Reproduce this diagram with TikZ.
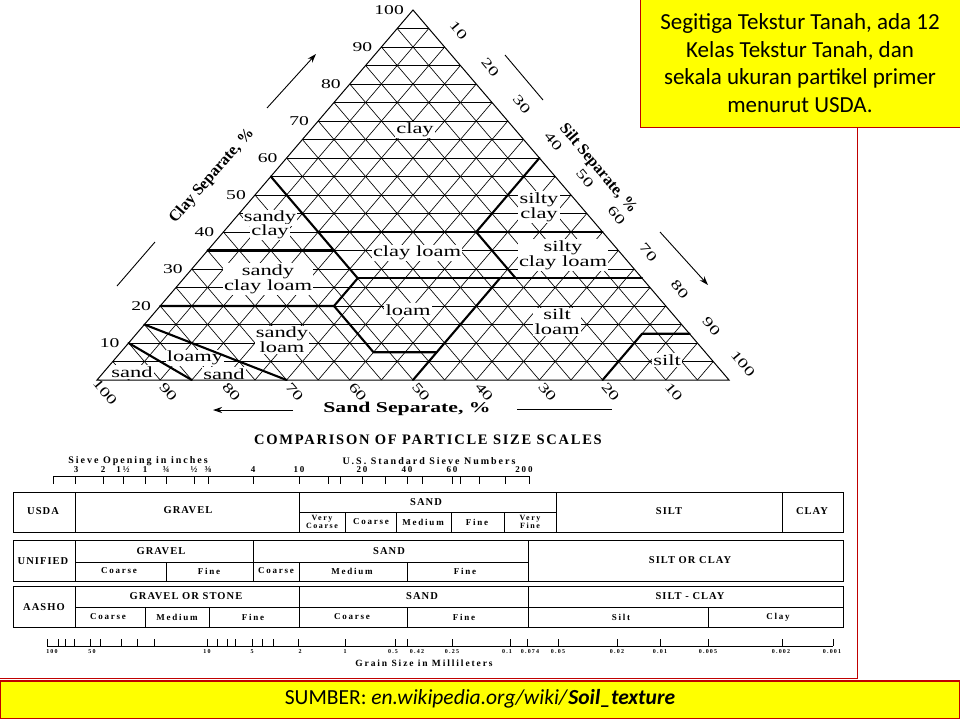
\documentclass[tikz,border=0pt]{standalone}
\usepackage{fontspec}
\setmainfont{Liberation Serif}
\newfontfamily\dgfont[FakeStretch=1.45]{Liberation Serif}
\newfontfamily\tbfont[LetterSpace=20]{Liberation Serif}
\newfontfamily\thfont[LetterSpace=10]{Liberation Serif}
\newfontfamily\ctfont[LetterSpace=12]{Liberation Serif}
\newfontfamily\slidefont{Carlito}
\usetikzlibrary{arrows.meta}
\definecolor{slidered}{RGB}{192,0,0}
\definecolor{slideyellow}{RGB}{255,255,0}
\tikzset{
  gridline/.style={line width=0.65pt},
  classline/.style={line width=2.1pt, line cap=round, line join=round},
  cls/.style={font={\dgfont\fontsize{15.5}{15}\selectfont}, fill=white, inner sep=1.2pt, align=center},
  lnum/.style={font={\dgfont\fontsize{13.5}{14}\selectfont}, anchor=east, inner sep=0pt},
  rnum/.style={font={\dgfont\fontsize{13.5}{14}\selectfont}, rotate=-50, inner sep=0pt},
  axtitle/.style={font={\bfseries\fontsize{16}{16}\selectfont}, inner sep=0pt},
  axtitleh/.style={font={\dgfont\bfseries\fontsize{15}{15}\selectfont}, inner sep=0pt},
  axarrow/.style={line width=0.9pt, -{Stealth[length=9pt,width=6pt]}},
  axline/.style={line width=0.9pt},
  tl/.style={line width=0.8pt},
  thead/.style={font={\thfont\bfseries\fontsize{10.5}{11}\selectfont}, inner sep=0pt, align=center},
  tsub/.style={font={\tbfont\bfseries\fontsize{9}{9}\selectfont}, inner sep=0pt, align=center},
  tsub2/.style={font={\tbfont\bfseries\fontsize{8}{8}\selectfont}, inner sep=0pt, align=center},
  ticklab/.style={font={\tbfont\bfseries\fontsize{6}{6}\selectfont}, inner sep=0pt},
  sievelab/.style={font={\tbfont\bfseries\fontsize{10}{10}\selectfont}, inner sep=0pt},
  sievenum/.style={font={\tbfont\bfseries\fontsize{9}{9}\selectfont}, inner sep=0pt},
  slidebox/.style={draw=slidered, fill=slideyellow, line width=1.2pt},
  slidetext/.style={font={\slidefont\fontsize{23}{27.5}\selectfont}, align=center, inner sep=0pt},
}
\begin{document}
\begin{tikzpicture}[x=1pt,y=-1pt]
\useasboundingbox (0,0) rectangle (960,720);
\fill[white] (0,0) rectangle (960,720);

% ---------- triangle grid ----------
\begin{scope}[shift={(97,380)}, x={(6.32pt,0pt)}, y={(3.16pt,3.7pt)}]
  \foreach \k in {5,10,...,95} {
    \draw[gridline] (0,\k) -- ({100-\k},\k);
    \draw[gridline] (\k,0) -- (\k,{100-\k});
    \draw[gridline] (\k,0) -- (0,\k);
  }
\end{scope}

% ---------- class labels ----------
\node[cls] (lclay) at (415,130) {clay};
\node[cls] (lsc1) at (270,218) {sandy};
\node[cls] (lsc2) at (270,232) {clay};
\node[cls] (lsic) at (539,207) {silty\\clay};
\node[cls] (lcl) at (417,253) {clay loam};
\node[cls] (lsicl) at (563,255) {silty\\clay loam};
\node[cls] (lscl) at (268,279) {sandy\\clay loam};
\node[cls] (lloam) at (408,310) {loam};
\node[cls] (lsl) at (282,340) {sandy\\loam};
\node[cls] (lsil) at (557,322) {silt\\loam};
\node[cls] (lsilt) at (667,360) {silt};
\node[cls] (lls1) at (195,358) {loamy};
\node[cls] (lls2) at (224,374) {sand};
\node[cls] (lsand) at (132,372) {sand};

% ---------- class boundaries and outline ----------
\begin{scope}[shift={(97,380)}, x={(6.32pt,0pt)}, y={(3.16pt,3.7pt)}]
  \draw[classline] (0,55) -- (15,40) -- (27.5,27.5);
  \draw[classline] (15,40) -- (60,40);
  \draw[classline] (40,60) -- (40,40) -- (52.5,27.5);
  \draw[classline] (0,35) -- (20,35);
  \draw[classline] (27.5,27.5) -- (72.5,27.5);
  \draw[classline] (0,20) -- (27.5,20) -- (27.5,27.5);
  \draw[classline] (27.5,20) -- (40,7.5) -- (50,7.5);
  \draw[classline] (50,0) -- (50,27.5);
  \draw[classline] (80,0) -- (80,12.5) -- (87.5,12.5);
  \draw[classline] (0,15) -- (30,0);
  \draw[classline] (0,10) -- (15,0);
  \draw[line width=1pt] (0,0) -- (100,0) -- (0,100) -- cycle;
\end{scope}

% ---------- axis numbers ----------
\foreach \cv in {10,20,...,100}
  \node[lnum] (cl\cv) at ({97+3.16*\cv-9},{380-3.7*\cv}) {\cv};
\foreach \tv in {10,20,...,100}
  \node[rnum] (si\tv) at ({729-3.16*(100-\tv)+14},{380-3.7*(100-\tv)-16.5}) {\tv};
\foreach \sv in {10,20,...,100}
  \node[rnum] (sa\sv) at ({729-6.32*\sv+8},392) {\sv};

% ---------- axis titles and arrows ----------
\node[axtitle, rotate=49] (tclay) at (212,176) {Clay Separate, \%};
\node[axtitle, rotate=-50] (tsilt) at (598,169) {Silt Separate, \%};
\node[axtitleh] (tsand) at (407,409) {Sand Separate, \%};
\coordinate (ca1) at (267,108); \coordinate (ca2) at (316,54);
\coordinate (cb1) at (155,242); \coordinate (cb2) at (117,286);
\coordinate (sa1) at (505,55); \coordinate (sa2) at (543,100);
\coordinate (sb1) at (660,232); \coordinate (sb2) at (708,285);
\coordinate (da1) at (293,410); \coordinate (da2) at (213,410);
\coordinate (db1) at (517,409); \coordinate (db2) at (612,409);
\draw[axarrow] (ca1) -- (ca2);
\draw[axline] (cb1) -- (cb2);
\draw[axline] (sa1) -- (sa2);
\draw[axarrow] (sb1) -- (sb2);
\draw[axarrow] (da1) -- (da2);
\draw[axline] (db1) -- (db2);

% ---------- comparison of particle size scales ----------
\node[font={\ctfont\bfseries\fontsize{14.5}{14.5}\selectfont}, inner sep=0pt] (ctitle) at (428,440) {COMPARISON OF PARTICLE SIZE SCALES};
\node[sievelab] (sieveA) at (138,461) {Sieve Opening in inches};
\node[sievelab] (sieveB) at (429,461) {U.S. Standard Sieve Numbers};
\draw[tl] (53,476) -- (529,476);
\foreach \xv in {53,75,103,123,145,166,194,208,253,299,328,340,362,385,407,422,452,460,479,505,529}
  \draw[tl] (\xv,476) -- (\xv,484);
\foreach \xv/\lab [count=\i] in {76/3,103/2,123/1½,145/1,166/¾,194/½,208/⅜,253/4,299/10,362/20,407/40,452/60,524/200}
  \node[sievenum] (sv\i) at (\xv,470) {\lab};

% USDA row
\draw[tl] (13,492) rectangle (843,532);
\foreach \xv in {75,299,556,782} \draw[tl] (\xv,492) -- (\xv,532);
\draw[tl] (299,512) -- (556,512);
\foreach \xv in {345,396,451,504} \draw[tl] (\xv,512) -- (\xv,532);
\node[thead] (uA) at (43,511) {USDA};
\node[thead] (uB) at (188,510) {GRAVEL};
\node[thead] (uC) at (426,502) {SAND};
\node[tsub2] (uD) at (322,522) {Very\\Coarse};
\node[tsub] (uE) at (371,522) {Coarse};
\node[tsub] (uF) at (423,522) {Medium};
\node[tsub] (uG) at (477,522) {Fine};
\node[tsub2] (uH) at (530,522) {Very\\Fine};
\node[thead] (uI) at (669,511) {SILT};
\node[thead] (uJ) at (812,511) {CLAY};

% UNIFIED row
\draw[tl] (13,540) rectangle (843,581);
\foreach \xv in {75,253,528} \draw[tl] (\xv,540) -- (\xv,581);
\draw[tl] (75,562) -- (528,562);
\foreach \xv in {166,299,407} \draw[tl] (\xv,562) -- (\xv,581);
\node[thead] (nA) at (43,561) {UNIFIED};
\node[thead] (nB) at (161,551) {GRAVEL};
\node[thead] (nC) at (389,551) {SAND};
\node[tsub] (nD) at (119,571) {Coarse};
\node[tsub] (nE) at (209,571) {Fine};
\node[tsub] (nF) at (276,571) {Coarse};
\node[tsub] (nG) at (352,571) {Medium};
\node[tsub] (nH) at (465,571) {Fine};
\node[thead] (nI) at (690,560) {SILT OR CLAY};

% AASHO row
\draw[tl] (13,586) rectangle (843,627);
\foreach \xv in {75,299,528} \draw[tl] (\xv,586) -- (\xv,627);
\draw[tl] (75,607) -- (843,607);
\foreach \xv in {145,209,407,708} \draw[tl] (\xv,607) -- (\xv,627);
\node[thead] (aA) at (44,607) {AASHO};
\node[thead] (aB) at (186,596) {GRAVEL OR STONE};
\node[thead] (aC) at (422,596) {SAND};
\node[thead] (aD) at (690,596) {SILT - CLAY};
\node[tsub] (aE) at (108,617) {Coarse};
\node[tsub] (aF) at (177,617) {Medium};
\node[tsub] (aG) at (253,617) {Fine};
\node[tsub] (aH) at (352,617) {Coarse};
\node[tsub] (aI) at (464,617) {Fine};
\node[tsub] (aJ) at (621,617) {Silt};
\node[tsub] (aK) at (778,617) {Clay};

% grain size scale
\draw[tl] (47,646) -- (833,646);
\foreach \xv in {47,58,65,74,90,100,121,137,154,207,217,227,235,252,262,273,298,345,395,407,452,510,527,558,617,660,708,782,833}
  \draw[tl] (\xv,646) -- (\xv,639);
\foreach \xv/\lab [count=\i] in {52/100,92/50,207/10,252/5,300/2,345/1,393/0.5,417/0.42,452/0.25,507/0.1,530/0.074,558/0.05,617/0.02,660/0.01,708/0.005,781/0.002,832/0.001}
  \node[ticklab] (gs\i) at (\xv,652) {\lab};
\node[font={\tbfont\bfseries\fontsize{9.5}{10}\selectfont}, inner sep=0pt] (gtitle) at (424,663) {Grain Size in Millileters};

% ---------- slide frame and boxes ----------
\draw[slidered, line width=1pt] (0,678) -- (857,678) -- (857,128);
\draw[slidebox] (640.5,-2) rectangle (962,127.5);
\node[slidetext] (note) at (800,63) {Segitiga Tekstur Tanah, ada 12\\Kelas Tekstur Tanah, dan\\sekala ukuran partikel primer\\menurut USDA.};
\draw[slidebox] (0.8,681) rectangle (959.2,718.5);
\node[font={\slidefont\fontsize{21.5}{24}\selectfont}, inner sep=0pt] (src) at (480,699) {SUMBER: \textit{en.wikipedia.org/wiki/}\textbf{\textit{Soil\_texture}}};
\end{tikzpicture}
\end{document}
